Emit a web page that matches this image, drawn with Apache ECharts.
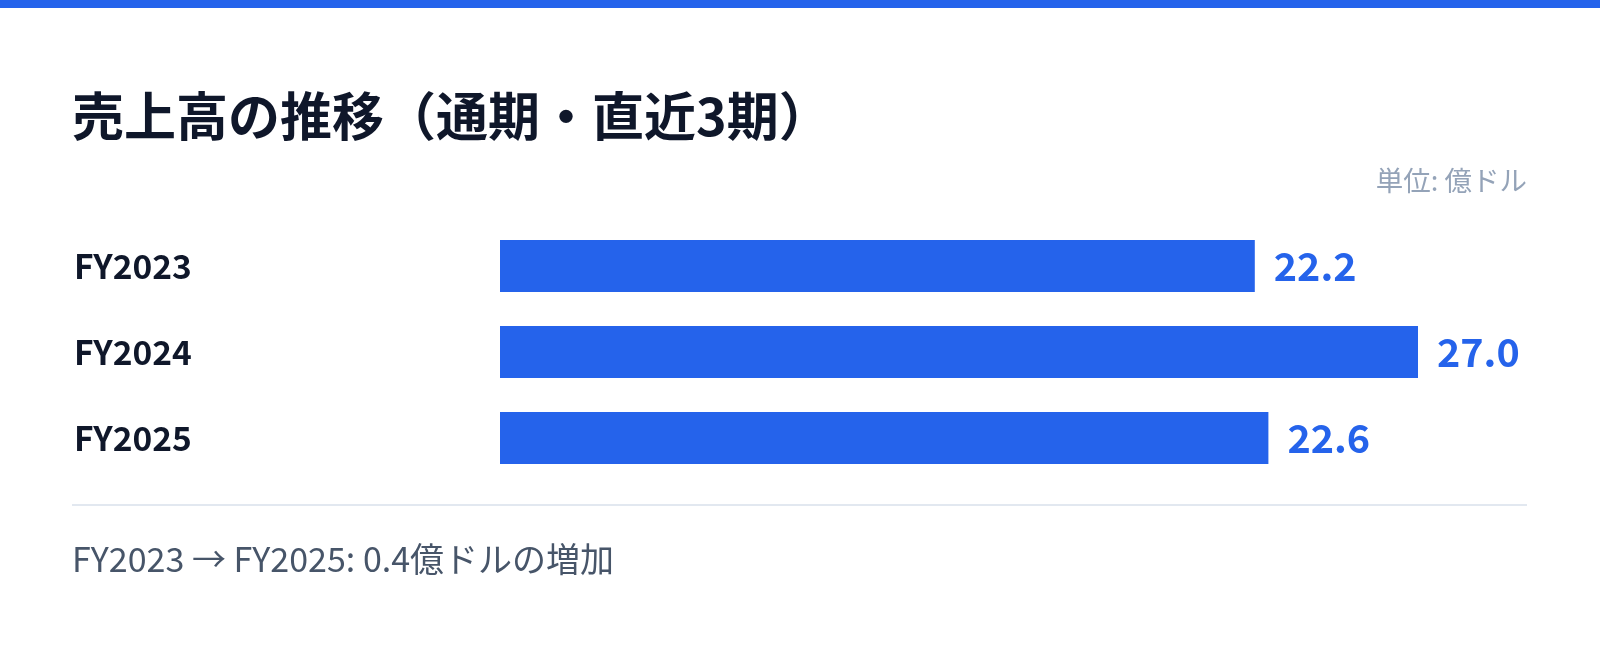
<!DOCTYPE html>
<html>
<head>
<meta charset="utf-8">
<script src="https://cdn.jsdelivr.net/npm/echarts@6/dist/echarts.min.js"></script>
<style>
html,body{margin:0;padding:0;background:#fff;}
#c{width:1600px;height:647px;}
</style>
</head>
<body>
<div id="c"></div>
<script>
const categories = ['FY2023', 'FY2024', 'FY2025'];
const values = [22.2, 27.0, 22.6];
const titleText = '売上高の推移（通期・直近3期）';
const unitText = '単位: 億ドル';
const footerText = 'FY2023 → FY2025: 0.4億ドルの増加';

const FONT = '"Noto Sans CJK JP", "Noto Sans", sans-serif';
const chart = echarts.init(document.getElementById('c'), null, {renderer: 'canvas'});
chart.setOption({
  backgroundColor: '#ffffff',
  animation: false,
  title: {
    text: titleText,
    left: 72,
    top: 86,
    padding: 0,
    textStyle: {fontFamily: FONT, fontSize: 52, fontWeight: 'bold', color: '#0f172a', lineHeight: 60}
  },
  grid: {left: 500, top: 223, width: 1020, height: 258, containLabel: false},
  xAxis: {
    type: 'value', min: 0, max: 30,
    show: false
  },
  yAxis: {
    type: 'category',
    data: categories,
    inverse: true,
    axisLine: {show: false},
    axisTick: {show: false},
    splitLine: {show: false},
    axisLabel: {
      align: 'left', margin: 426,
      fontFamily: FONT, fontSize: 33.5, fontWeight: 'bold', color: '#0f172a'
    }
  },
  series: [{
    type: 'bar',
    data: values,
    barWidth: 52,
    itemStyle: {color: '#2563eb'},
    label: {
      show: true, position: 'right', distance: 19,
      formatter: p => p.value.toFixed(1),
      fontFamily: FONT, fontSize: 39.5, fontWeight: 'bold', color: '#2563eb'
    }
  }],
  graphic: [
    {type: 'rect', left: 0, top: 0, shape: {width: 1600, height: 8}, style: {fill: '#2563eb'}},
    {type: 'text', right: 73, top: 167, style: {text: unitText, font: '27.5px ' + FONT, fill: '#94a3b8'}},
    {type: 'rect', left: 72, top: 504, shape: {width: 1455, height: 2}, style: {fill: '#e2e8f0'}},
    {type: 'text', left: 72, top: 542, style: {text: footerText, font: '34px ' + FONT, fill: '#475569'}}
  ]
});
</script>
</body>
</html>
